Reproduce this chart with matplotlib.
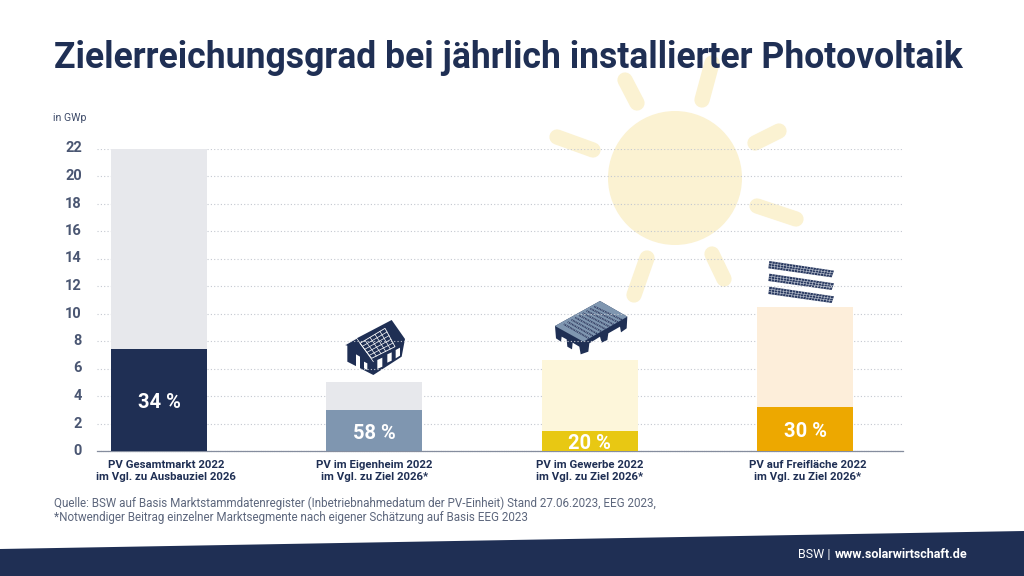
import matplotlib
matplotlib.use("Agg")
import matplotlib.pyplot as plt
from matplotlib.patches import Circle, Polygon
from matplotlib.transforms import ScaledTranslation

W, H = 1024, 576

categories = [
    "PV Gesamtmarkt 2022\nim Vgl. zu Ausbauziel 2026",
    "PV im Eigenheim 2022\nim Vgl. zu Ziel 2026*",
    "PV im Gewerbe 2022\nim Vgl. zu Ziel 2026*",
    "PV auf Freifläche 2022\nim Vgl. zu Ziel 2026*",
]
target_values = [22.0, 5.0, 6.6, 10.5]
installed_values = [7.4, 3.0, 1.45, 3.2]
percent_labels = ["34 %", "58 %", "20 %", "30 %"]
y_ticks = [0, 2, 4, 6, 8, 10, 12, 14, 16, 18, 20, 22]

NAVY = "#1f2f54"
SLATE = "#7f96b0"
SUN = "#fbf2d2"
target_colors = ["#e7e8ec", "#e7e8ec", "#fdf6da", "#fdeeda"]
installed_colors = [NAVY, SLATE, "#e8c813", "#eda800"]

plt.rcParams["font.family"] = ["Roboto", "DejaVu Sans"]

fig = plt.figure(figsize=(W / 100, H / 100), dpi=100)

# background layer in pixel coordinates: sun, band, icons
bg = fig.add_axes([0, 0, 1, 1], zorder=0)
bg.set_xlim(0, W)
bg.set_ylim(H, 0)
bg.axis("off")

bg.add_patch(Circle((675, 178), 67, color=SUN, lw=0))
rays = [
    ((712, 63), (702, 100)), ((625, 80), (637, 103)), ((557, 137), (593, 150)),
    ((755, 143), (779, 131)), ((757, 206), (796, 219)), ((712, 254), (724, 279)),
    ((647, 258), (634, 295)),
]
for a, b in rays:
    bg.plot([a[0], b[0]], [a[1], b[1]], color=SUN, lw=11, solid_capstyle="round")

bg.add_patch(Polygon([(0, 549), (1024, 531), (1024, 576), (0, 576)], color=NAVY, lw=0))


def zoomed(points, ox, oy):
    return [(ox + x / 3, oy + y / 3) for x, y in points]


def grid_lines(quad, nu, nv, color, lw, zorder):
    # grid inside a four sided panel
    (ax_, ay), (bx, by), (cx, cy), (dx, dy) = quad
    for i in range(1, nu):
        t = i / nu
        bg.plot([ax_ + (bx - ax_) * t, dx + (cx - dx) * t], [ay + (by - ay) * t, dy + (cy - dy) * t],
                color=color, lw=lw, zorder=zorder)
    for i in range(1, nv):
        t = i / nv
        bg.plot([ax_ + (dx - ax_) * t, bx + (cx - bx) * t], [ay + (dy - ay) * t, by + (cy - by) * t],
                color=color, lw=lw, zorder=zorder)


# house icon
ox, oy = 340, 315
bg.add_patch(Polygon(zoomed([(15, 90), (50, 70), (155, 15), (195, 72), (185, 125), (100, 180), (22, 140),
                             (22, 92)], ox, oy), color=NAVY, lw=0, zorder=3))
roof = zoomed([(60, 85), (135, 40), (165, 95), (95, 130)], ox, oy)
bg.add_patch(Polygon(roof, fc=NAVY, ec="white", lw=0.6, zorder=4))
grid_lines(roof, 5, 5, "white", 0.5, 5)
eave = zoomed([(15, 90), (50, 70), (100, 140)], ox, oy)
bg.plot([p[0] for p in eave], [p[1] for p in eave], color="white", lw=0.5, zorder=5)
for win in [[(48, 118), (60, 125), (60, 165), (48, 158)], [(72, 140), (82, 145), (82, 165), (72, 160)],
            [(112, 135), (127, 128), (127, 155), (112, 162)], [(142, 118), (155, 112), (155, 137), (142, 143)],
            [(167, 105), (180, 98), (180, 122), (167, 130)]]:
    bg.add_patch(Polygon(zoomed(win, ox, oy), color="white", lw=0, zorder=5))

# factory icon
ox, oy = 550, 295
bg.add_patch(Polygon(zoomed([(15, 93), (150, 18), (232, 65), (230, 100), (213, 112), (210, 95), (175, 115),
                             (172, 135), (155, 143), (150, 125), (118, 145), (115, 170), (92, 178), (88, 155),
                             (68, 143), (66, 163), (52, 155), (50, 133), (35, 125), (33, 140), (18, 130)],
                            ox, oy), color=NAVY, lw=0, zorder=3))
bg.add_patch(Polygon(zoomed([(15, 93), (150, 18), (232, 65), (100, 140)], ox, oy), color=SLATE, lw=0, zorder=4))
for i in range(9):
    t = (i + 0.5) / 9
    a = (38 + (140 - 38) * t, 92 + (32 - 92) * t)
    b = (108 + (220 - 108) * t, 132 + (70 - 132) * t)
    (x0, y0), (x1, y1) = zoomed([a, b], ox, oy)
    bg.plot([x0, x1], [y0, y1], color="#2b3b62", lw=1.1, zorder=5)
    bg.plot([x0, x1], [y0, y1], color="#dfe4ea", lw=0.5, ls=(0, (1, 1.5)), zorder=6)

# ground mounted panels
ox, oy = 760, 255
for off in [0, 38, 77]:
    panel = zoomed([(28, 18 + off), (222, 47 + off), (215, 67 + off), (25, 40 + off)], ox, oy)
    bg.add_patch(Polygon(panel, color="#2b3b62", lw=0, zorder=4))
    grid_lines(panel, 22, 3, "#dfe4ea", 0.35, 5)

# chart layer
ax = fig.add_axes([97 / W, 1 - 451 / H, (903 - 97) / W, (451 - 148.5) / H], zorder=1)
ax.patch.set_alpha(0)
x = list(range(len(categories)))
ax.bar(x, target_values, width=0.446, color=target_colors, zorder=2)
ax.bar(x, installed_values, width=0.446, color=installed_colors, zorder=3)
ax.set_xlim(-0.2879, 3.455)
ax.set_ylim(0, 22)
ax.set_yticks(y_ticks)
ax.set_xticks(x)
ax.set_xticklabels(categories, fontsize=8.2, fontweight="bold", color=NAVY, linespacing=1.3)
ax.tick_params(axis="both", length=0)
ax.tick_params(axis="x", pad=6.5)
ax.tick_params(axis="y", pad=10.8, labelsize=10.5, labelcolor="#4a5672")
for lab in ax.get_yticklabels():
    lab.set_fontweight("bold")
    lab.set_transform(lab.get_transform() + ScaledTranslation(0, 1.5 / 100, fig.dpi_scale_trans))
# the source labels do not sit exactly under their bars
for lab, shift in zip(ax.get_xticklabels(), [7, 0, 0, 3]):
    lab.set_transform(lab.get_transform() + ScaledTranslation(shift / 100, 0, fig.dpi_scale_trans))
ax.grid(axis="y", color="#c4c8d0", lw=0.8, ls=(0, (1, 2)), zorder=1)
ax.set_axisbelow(True)
for s in ["top", "right", "left"]:
    ax.spines[s].set_visible(False)
ax.spines["bottom"].set_color("#858d9e")
ax.spines["bottom"].set_linewidth(0.9)
ax.spines["bottom"].set_linestyle((0, (1, 0.8)))

for xi, v, lab in zip(x, installed_values, percent_labels):
    ax.annotate(lab, (xi, v / 2), xytext=(0, -2), textcoords="offset points", color="white", fontsize=14.5,
                fontweight="bold", ha="center", va="center", zorder=4)


def px_text(px, py, s, **kw):
    return fig.text(px / W, 1 - py / H, s, **kw)


px_text(54, 58, "Zielerreichungsgrad bei jährlich installierter Photovoltaik", fontsize=25.6,
        fontweight="bold", color=NAVY, va="center", ha="left", zorder=5)
px_text(53, 118, "in GWp", fontsize=7.6, color="#3d4a68", va="center")
px_text(54, 503, "Quelle: BSW auf Basis Marktstammdatenregister (Inbetriebnahmedatum der PV-Einheit) Stand 27.06.2023, EEG 2023,",
        fontsize=8.38, color="#5c667c", va="center")
px_text(54, 518, "*Notwendiger Beitrag einzelner Marktsegmente nach eigener Schätzung auf Basis EEG 2023",
        fontsize=8.38, color="#5c667c", va="center")
px_text(798, 555, "BSW |", fontsize=9, color="white", va="center")
px_text(835, 555, "www.solarwirtschaft.de", fontsize=9, fontweight="bold", color="white", va="center")

fig.savefig("out.png", dpi=100)
